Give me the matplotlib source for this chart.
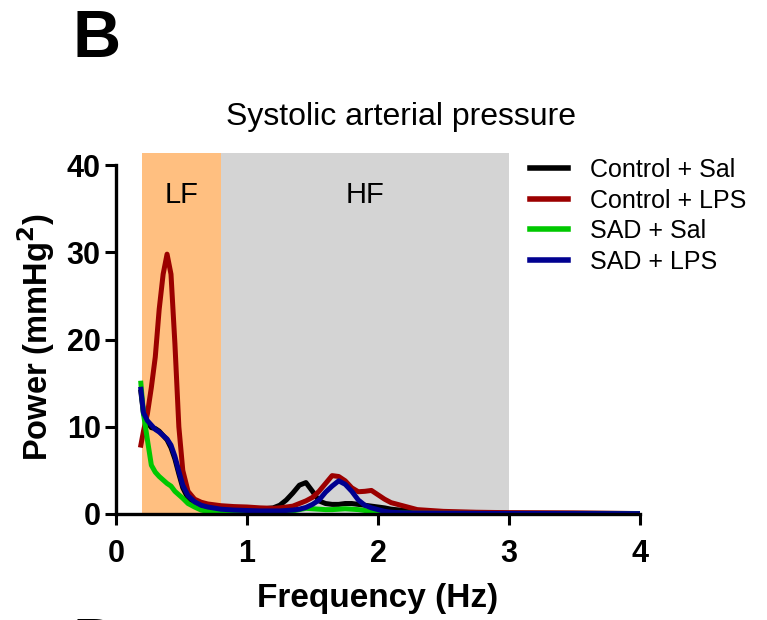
import matplotlib
matplotlib.use('Agg')
import matplotlib.pyplot as plt

plt.rcParams['font.family'] = ['Liberation Sans', 'DejaVu Sans']

# frequency grid (Hz) and spectral power (mmHg^2)
freq = [0.19, 0.21, 0.24, 0.27, 0.30, 0.33, 0.36, 0.39, 0.42, 0.45,
        0.48, 0.51, 0.55, 0.60, 0.65, 0.70, 0.80, 0.90, 1.00, 1.10,
        1.20, 1.25, 1.30, 1.35, 1.40, 1.45, 1.50, 1.55, 1.60, 1.65,
        1.70, 1.75, 1.80, 1.85, 1.90, 1.95, 2.00, 2.05, 2.10, 2.20,
        2.30, 2.50, 2.75, 3.00, 3.50, 4.00]

control_sal = [14.0, 11.5, 10.5, 9.9, 9.8, 9.5, 9.0, 8.5, 7.6, 6.3,
               4.6, 3.0, 1.8, 1.1, 0.75, 0.6, 0.5, 0.5, 0.6, 0.55,
               0.7, 1.0, 1.6, 2.4, 3.3, 3.6, 2.6, 1.5, 1.2, 1.1,
               1.1, 1.2, 1.2, 1.1, 1.0, 0.9, 0.8, 0.7, 0.55, 0.4,
               0.25, 0.15, 0.12, 0.1, 0.08, 0.05]

control_lps = [7.9, 9.5, 11.5, 14.5, 18.0, 23.5, 27.5, 29.8, 27.5, 19.5,
               10.0, 5.0, 2.6, 1.7, 1.35, 1.15, 0.95, 0.85, 0.8, 0.7,
               0.65, 0.7, 0.8, 0.9, 1.2, 1.5, 1.9, 2.6, 3.5, 4.4,
               4.3, 3.8, 3.0, 2.55, 2.6, 2.7, 2.2, 1.7, 1.3, 0.9,
               0.5, 0.3, 0.2, 0.15, 0.12, 0.05]

sad_sal = [15.0, 11.5, 8.5, 5.6, 4.8, 4.3, 3.9, 3.5, 3.2, 2.6,
           2.2, 1.8, 1.2, 0.8, 0.45, 0.3, 0.2, 0.15, 0.15, 0.15,
           0.15, 0.2, 0.25, 0.35, 0.5, 0.65, 0.6, 0.55, 0.5, 0.5,
           0.55, 0.6, 0.55, 0.5, 0.4, 0.3, 0.2, 0.15, 0.12, 0.1,
           0.08, 0.07, 0.06, 0.05, 0.05, 0.04]

sad_lps = [14.3, 11.6, 10.7, 10.2, 9.7, 9.4, 9.0, 8.6, 7.9, 6.6,
           4.9, 3.3, 2.1, 1.4, 1.0, 0.8, 0.55, 0.45, 0.4, 0.35,
           0.35, 0.35, 0.4, 0.45, 0.55, 0.75, 1.1, 1.6, 2.5, 3.2,
           3.8, 3.4, 2.6, 1.6, 1.0, 0.7, 0.5, 0.3, 0.2, 0.12,
           0.1, 0.08, 0.07, 0.06, 0.05, 0.04]

series = [('Control + Sal', control_sal, '#000000'),
          ('Control + LPS', control_lps, '#9b0000'),
          ('SAD + Sal', sad_sal, '#00c800'),
          ('SAD + LPS', sad_lps, '#000090')]

lf_band = (0.2, 0.8)
hf_band = (0.8, 3.0)

fig = plt.figure(figsize=(7.67, 6.2), dpi=100)
ax = fig.add_axes([0.1512, 0.1710, 0.6832, 0.5822])

ax.axvspan(lf_band[0], lf_band[1], color='#ffbf80', lw=0, zorder=0)
ax.axvspan(hf_band[0], hf_band[1], color='#d4d4d4', lw=0, zorder=0)
ax.text(sum(lf_band) / 2, 36.6, 'LF', ha='center', va='center', fontsize=21)
ax.text(sum(hf_band) / 2, 36.6, 'HF', ha='center', va='center', fontsize=21)

for name, vals, col in series:
    ax.plot(freq, vals, color=col, lw=3.6, label=name)

ax.set_xlim(0, 4)
ax.set_ylim(0, 41.4)
ax.set_xticks([0, 1, 2, 3, 4])
ax.set_yticks([0, 10, 20, 30, 40])
ax.spines['left'].set_bounds(0, 40)
ax.spines['top'].set_visible(False)
ax.spines['right'].set_visible(False)
for s in ('left', 'bottom'):
    ax.spines[s].set_linewidth(2.4)
ax.tick_params(width=2.2, length=8, labelsize=22)
ax.tick_params(axis='x', pad=10)
ax.tick_params(axis='y', pad=3)
for lab in ax.get_xticklabels() + ax.get_yticklabels():
    lab.set_fontweight('bold')

fig.text(0.492, 0.021, 'Frequency (Hz)', ha='center', va='baseline',
         fontsize=24, fontweight='bold')
fig.text(0.047, 0.457, 'Power (mmHg$^\\mathbf{2}$)', ha='center', va='center',
         rotation=90, fontsize=23.5, fontweight='bold')
fig.text(0.523, 0.811, 'Systolic arterial pressure', ha='center', va='center',
         fontsize=23)
fig.text(0.094, 0.908, 'B', ha='left', va='baseline', fontsize=48, fontweight='bold')
fig.text(0.094, -0.0726, 'D', ha='left', va='baseline', fontsize=48, fontweight='bold')

ax.legend(loc='upper left', bbox_to_anchor=(0.691, 0.745),
          bbox_transform=fig.transFigure, frameon=False, fontsize=18,
          handlelength=1.52, handletextpad=0.88, labelspacing=0.26,
          borderpad=0, borderaxespad=0)
for line in ax.get_legend().get_lines():
    line.set_linewidth(4)

fig.savefig('out.png', dpi=100)
